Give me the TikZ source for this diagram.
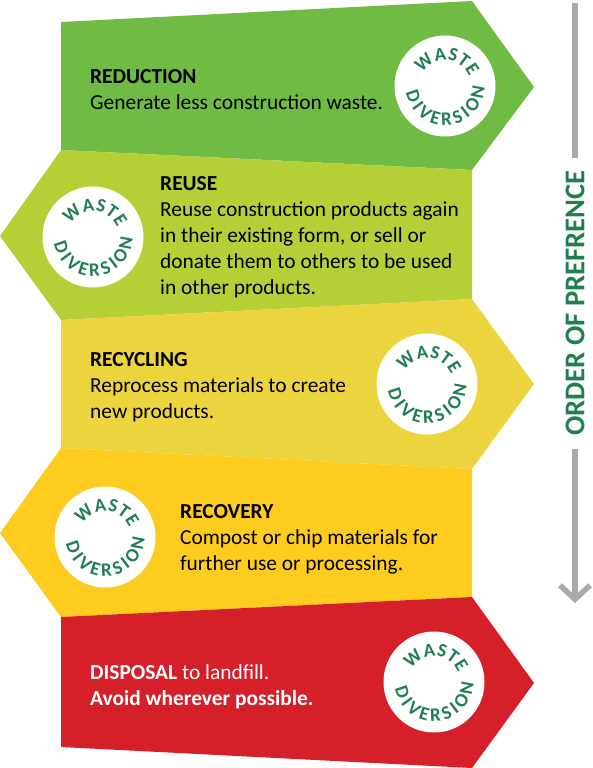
\documentclass[tikz,border=0pt]{standalone}
\usepackage{fontspec}
\setmainfont{Carlito}
\usepackage{tikz}
\usetikzlibrary{arrows.meta,decorations.text}
\definecolor{reductiongreen}{HTML}{6FBB44}
\definecolor{reuselime}{HTML}{B5CF37}
\definecolor{recyclingyellow}{HTML}{ECD43F}
\definecolor{recoveryorange}{HTML}{FECB1F}
\definecolor{disposalred}{HTML}{D5202A}
\definecolor{badgegreen}{HTML}{1F7F4F}
\definecolor{arrowgrey}{HTML}{A7A9AC}
\tikzset{
  stepshape/.style={draw=none,fill=#1},
  stepnote/.style={anchor=north west,align=left,inner sep=0pt,text=black,font=\fontsize{21.4}{26}\selectfont},
  badge/.style={circle,fill=white,minimum size=101pt,inner sep=0pt},
  badgetext/.style={decorate,decoration={text along path,text align={fit to path},text={|\fontsize{19}{19}\selectfont\bfseries\color{badgegreen}|#1}}},
  orderline/.style={arrowgrey,line width=5.5pt}
}
\newcommand{\wastebadge}[3]{
  \node[badge] (#1) at (#2,#3) {};
  \path[badgetext=WASTE] (#1.center) ++(150:26) arc (150:22:26);
  \path[badgetext=DIVERSION] (#1.center) ++(190:39.5) arc (190:358:39.5);
}
\begin{document}
\begin{tikzpicture}[x=1pt,y=1pt]
    \useasboundingbox (0,0) rectangle (592,-768);

    \fill[stepshape=reductiongreen] (61,-22) -- (472,-1) -- (534,-87) -- (472,-170) -- (61,-150) -- cycle;
    \fill[stepshape=reuselime] (61,-150) -- (472,-170) -- (472,-299) -- (61,-320) -- (0,-236) -- cycle;
    \fill[stepshape=recyclingyellow] (61,-320) -- (472,-299) -- (534,-384) -- (472,-469) -- (61,-448) -- cycle;
    \fill[stepshape=recoveryorange] (61,-448) -- (472,-469) -- (472,-597) -- (61,-617) -- (0,-533) -- cycle;
    \fill[stepshape=disposalred] (61,-617) -- (472,-597) -- (534,-683) -- (472,-768) -- (61,-747) -- cycle;

    \wastebadge{reductionbadge}{445}{-86}
    \wastebadge{reusebadge}{93}{-237}
    \wastebadge{recyclingbadge}{427}{-384}
    \wastebadge{recoverybadge}{105}{-537}
    \wastebadge{disposalbadge}{434}{-682}

    \node[stepnote] (reductionnote) at (90,-69) {\textbf{REDUCTION}\\Generate less construction waste.};
    \node[stepnote] (reusenote) at (160,-176.5) {\textbf{REUSE}\\Reuse construction products again\\in their existing form, or sell or\\donate them to others to be used\\in other products.};
    \node[stepnote] (recyclingnote) at (90,-352) {\textbf{RECYCLING}\\Reprocess materials to create\\new products.};
    \node[stepnote] (recoverynote) at (180,-504) {\textbf{RECOVERY}\\Compost or chip materials for\\further use or processing.};
    \node[stepnote,text=white] (disposalnote) at (90,-664) {\textbf{DISPOSAL} to landfill.\\\textbf{Avoid wherever possible.}};

    \node[rotate=90,inner sep=0pt,text=badgegreen,font=\fontsize{28.6}{28.6}\selectfont\bfseries] (orderlabel) at (575,-303) {ORDER OF PREFRENCE};
    \coordinate (ordertop) at (575,-3);
    \coordinate (orderupper) at (575,-158);
    \coordinate (orderlower) at (575,-449);
    \coordinate (orderend) at (575,-603);
    \draw[orderline] (ordertop) -- (orderupper);
    \draw[orderline,-{Straight Barb[length=14pt,width=30pt]}] (orderlower) -- (orderend);
\end{tikzpicture}
\end{document}
